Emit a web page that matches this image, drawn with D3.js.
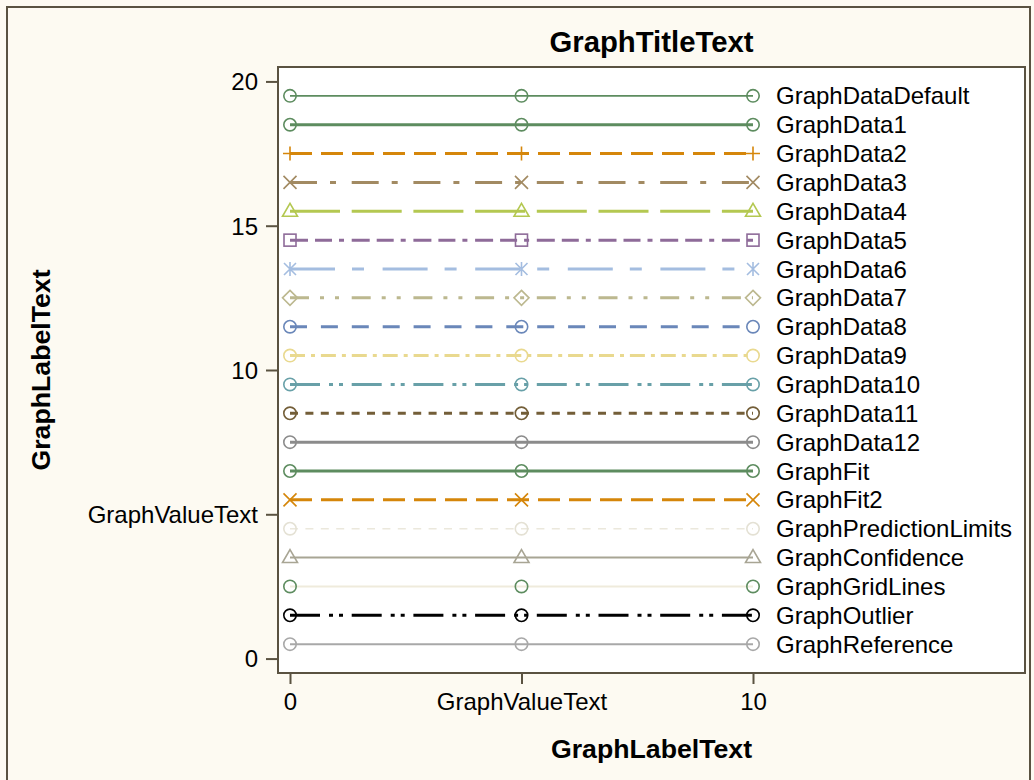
<!DOCTYPE html>
<html><head><meta charset="utf-8">
<script src="https://cdn.jsdelivr.net/npm/d3@7"></script>
<style>
html,body{margin:0;padding:0;background:#fdfaf2;}
svg{display:block;}
text{font-family:"Liberation Sans",Arial,Helvetica,sans-serif;fill:#000;}
</style></head>
<body>
<svg id="chart" width="1034" height="780"></svg>
<script>
// ---- data ----
const seriesNames = ["GraphDataDefault","GraphData1","GraphData2","GraphData3","GraphData4","GraphData5","GraphData6","GraphData7","GraphData8","GraphData9","GraphData10","GraphData11","GraphData12","GraphFit","GraphFit2","GraphPredictionLimits","GraphConfidence","GraphGridLines","GraphOutlier","GraphReference"];
const seriesY = [19.5,18.5,17.5,16.5,15.5,14.5,13.5,12.5,11.5,10.5,9.5,8.5,7.5,6.5,5.5,4.5,3.5,2.5,1.5,0.5];
const xValues = [0,5,10];
const yTickValues = [0,5,10,15,20];
const yTickLabels = ["0","GraphValueText","10","15","20"];
const xTickValues = [0,5,10];
const xTickLabels = ["0","GraphValueText","10"];
const titleText = "GraphTitleText";
const xLabelText = "GraphLabelText";
const yLabelText = "GraphLabelText";

// ---- styles (separate from data) ----
const lineColors = ["#5d8c5f","#5d8c5f","#d5860a","#a28a62","#b4c851","#8e6b99","#a4bde0","#bcb88f","#6a87b9","#e9d98f","#68a0a8","#735e38","#8b8b8b","#5d8c5f","#d5860a","#ebe8dc","#a8a594","#efebdc","#000000","#a8a8a8"];
const markerColors = ["#5d8c5f","#5d8c5f","#d5860a","#a28a62","#b4c851","#8e6b99","#a4bde0","#bcb88f","#6a87b9","#e9d98f","#68a0a8","#735e38","#8b8b8b","#5d8c5f","#d5860a","#e4e1d4","#a8a594","#5d8c5f","#000000","#a8a8a8"];
const lineWidths = [1.6,3,3,3,3,3,3,3,3,3,3,3,3,3,3,1.5,2,2,3,2];
const dashes = [null,null,"22,9","27,13,6,15.7","50,11.7","18,7,17,7,5,7.7","45,17,12,18.6","19,11,4,11,4,12.7","17,13.9","15,6,4,5.9","30,9,4,6,4,8.7","8,7.4",null,null,"22,9","8,7.4",null,null,"30,9,4,6,4,8.7",null];
const symbols = ["circle","circle","plus","x","triangle","square","asterisk","diamond","circle","circle","circle","circle","circle","circle","x","circle","triangle","circle","circle","circle"];

const svg = d3.select("#chart");
const border = "#5a5241";

// outer frame
svg.append("rect").attr("x",7).attr("y",7).attr("width",1023).attr("height",800)
  .attr("fill","#fdfaf2").attr("stroke",border).attr("stroke-width",2);

const plot = {left:278, top:67, right:1025, bottom:673};
const x = d3.scaleLinear().domain([-12/46.3, 735/46.3]).range([plot.left, plot.right]);
const y = d3.scaleLinear().domain([-0.5, 20.5]).range([plot.bottom, plot.top]);

svg.append("rect").attr("x",plot.left).attr("y",plot.top)
  .attr("width",plot.right-plot.left).attr("height",plot.bottom-plot.top)
  .attr("fill","#ffffff");

// axes
const yAxis = d3.axisLeft(y).tickValues(yTickValues).tickSize(12).tickPadding(8)
  .tickFormat((d,i)=>yTickLabels[i]);
const gy = svg.append("g").attr("transform",`translate(${plot.left},0)`).call(yAxis);
const xAxis = d3.axisBottom(x).tickValues(xTickValues).tickSize(11).tickPadding(9)
  .tickFormat((d,i)=>xTickLabels[i]);
const gx = svg.append("g").attr("transform",`translate(0,${plot.bottom})`).call(xAxis);
[gx,gy].forEach(g=>{
  g.select(".domain").remove();
  g.selectAll(".tick line").attr("stroke",border).attr("stroke-width",2);
  g.selectAll(".tick text").attr("font-size",24).attr("font-family","Liberation Sans, Arial, sans-serif").attr("fill","#000");
});
gy.selectAll(".tick text").attr("dy","0.35em");

// series lines
const lineGen = d3.line().x(d=>x(d[0])).y(d=>y(d[1]));
const gSeries = svg.append("g");
seriesNames.forEach((name,i)=>{
  const pts = xValues.map(v=>[v, seriesY[i]]);
  const g = gSeries.append("g");
  g.append("path").attr("d",lineGen(pts)).attr("fill","none")
    .attr("stroke",lineColors[i]).attr("stroke-width",lineWidths[i])
    .attr("stroke-dasharray",dashes[i]);
  pts.forEach(p=>{
    const cx = x(p[0]), cy = y(p[1]);
    const c = markerColors[i];
    const m = g.append("g").attr("transform",`translate(${cx},${cy})`)
      .attr("fill","none").attr("stroke",c).attr("stroke-width",1.6);
    const s = symbols[i];
    if(s==="circle") m.append("circle").attr("r",6.2);
    else if(s==="plus") m.append("path").attr("d","M-7,0H7M0,-7V7");
    else if(s==="x") m.append("path").attr("d","M-6.5,-6.5L6.5,6.5M-6.5,6.5L6.5,-6.5");
    else if(s==="triangle") m.append("path").attr("d","M0,-8L7.5,5H-7.5Z");
    else if(s==="square") m.append("rect").attr("x",-6).attr("y",-6).attr("width",12).attr("height",12);
    else if(s==="diamond") m.append("path").attr("d","M0,-7.5L7.5,0L0,7.5L-7.5,0Z");
    else if(s==="asterisk") m.append("path").attr("d","M0,-7V7M-6,-6L6,6M-6,6L6,-6");
  });
  g.append("text").attr("x",x(10)+23).attr("y",y(seriesY[i])).attr("dy","0.36em")
    .attr("font-size",24).text(name);
});

// plot border
svg.append("rect").attr("x",plot.left).attr("y",plot.top)
  .attr("width",plot.right-plot.left).attr("height",plot.bottom-plot.top)
  .attr("fill","none").attr("stroke",border).attr("stroke-width",2);

// titles
const cxPlot = (plot.left+plot.right)/2;
svg.append("text").attr("x",cxPlot).attr("y",52).attr("text-anchor","middle")
  .attr("font-size",29.3).attr("font-weight","bold").text(titleText);
svg.append("text").attr("x",cxPlot).attr("y",758).attr("text-anchor","middle")
  .attr("font-size",26.7).attr("font-weight","bold").text(xLabelText);
svg.append("text").attr("transform",`translate(50,${(plot.top+plot.bottom)/2}) rotate(-90)`)
  .attr("text-anchor","middle").attr("font-size",26.7).attr("font-weight","bold").text(yLabelText);
</script>
</body></html>
